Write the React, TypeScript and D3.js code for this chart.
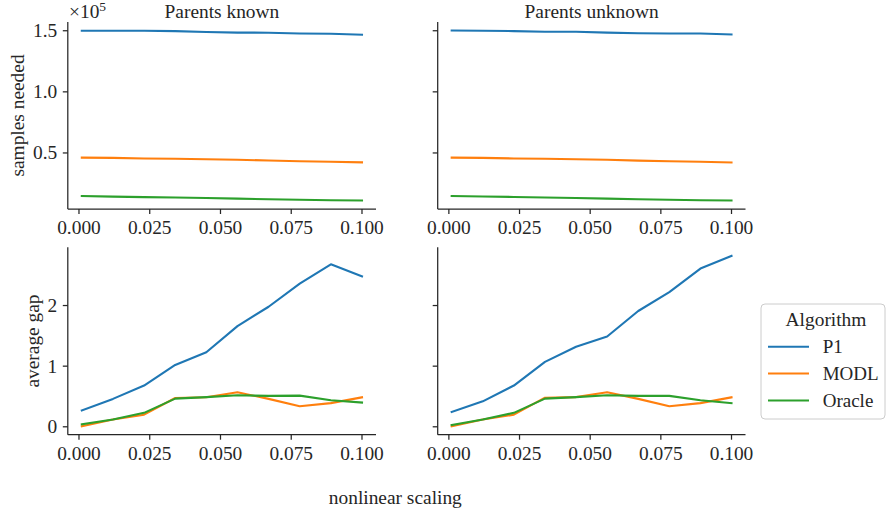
import React from "react";
import * as d3 from "d3";

const nonlinearScaling = [0.001, 0.012, 0.023, 0.034, 0.045, 0.056, 0.067, 0.078, 0.089, 0.1];

const samplesKnownP1 = [150000, 150000, 150000, 149700, 149000, 148500, 148400, 147800, 147500, 146800];
const samplesKnownMODL = [46200, 46000, 45500, 45200, 44900, 44500, 43800, 43200, 42800, 42300];
const samplesKnownOracle = [14800, 14300, 13900, 13500, 13100, 12600, 12100, 11700, 11300, 11100];

const samplesUnknownP1 = [150200, 150000, 149700, 149200, 149200, 148500, 148000, 147700, 147800, 147000];
const samplesUnknownMODL = [46200, 46000, 45500, 45200, 44900, 44500, 43700, 43200, 42800, 42200];
const samplesUnknownOracle = [14800, 14400, 14000, 13600, 13200, 12600, 12100, 11700, 11300, 11100];

const gapKnownP1 = [0.27, 0.46, 0.68, 1.02, 1.23, 1.66, 1.98, 2.36, 2.68, 2.48];
const gapKnownMODL = [0.01, 0.12, 0.2, 0.475, 0.486, 0.57, 0.46, 0.34, 0.39, 0.486];
const gapKnownOracle = [0.04, 0.12, 0.23, 0.465, 0.49, 0.52, 0.51, 0.514, 0.437, 0.4];

const gapUnknownP1 = [0.246, 0.42, 0.68, 1.07, 1.32, 1.49, 1.91, 2.22, 2.61, 2.82];
const gapUnknownMODL = [0.01, 0.12, 0.2, 0.48, 0.49, 0.57, 0.46, 0.34, 0.39, 0.486];
const gapUnknownOracle = [0.03, 0.12, 0.23, 0.465, 0.49, 0.52, 0.51, 0.51, 0.437, 0.39];

const algorithms = ["P1", "MODL", "Oracle"];
const colors = ["#1f77b4", "#ff7f0e", "#2ca02c"];
const columnTitles = ["Parents known", "Parents unknown"];
const xTicks = [0, 0.025, 0.05, 0.075, 0.1];
const samplesTicks = [50000, 100000, 150000];
const gapTicks = [0, 1, 2];

const FONT = "Liberation Serif";
const INK = "#262626";

const cols = [
  { x0: 67.8, x1: 376 },
  { x0: 437.7, x1: 745.5 },
];
const rows = [
  { y0: 22, y1: 209 },
  { y0: 247.3, y1: 434.7 },
];

const padded = (lo: number, hi: number): [number, number] => {
  const r = hi - lo;
  return [lo - 0.05 * r, hi + 0.05 * r];
};

type PanelProps = {
  col: number;
  row: number;
  series: number[][];
  yDomain: [number, number];
  yTicks: number[];
  yFmt: (v: number) => string;
  showYLabels: boolean;
};

function Panel({ col, row, series, yDomain, yTicks, yFmt, showYLabels }: PanelProps) {
  const { x0, x1 } = cols[col];
  const { y0, y1 } = rows[row];
  const xExt = d3.extent(nonlinearScaling) as [number, number];
  const x = d3.scaleLinear().domain(padded(xExt[0], xExt[1])).range([x0, x1]);
  const y = d3.scaleLinear().domain(yDomain).range([y1, y0]);
  const line = d3
    .line<number>()
    .x((_, i) => x(nonlinearScaling[i]))
    .y((d) => y(d));
  const fmt = d3.format(".3f");
  return (
    <g>
      {series.map((s, i) => (
        <path
          key={i}
          d={line(s) || ""}
          fill="none"
          stroke={colors[i]}
          strokeWidth={2.1}
          strokeLinejoin="round"
          strokeLinecap="square"
        />
      ))}
      <line x1={x0} x2={x0} y1={y0} y2={y1} stroke={INK} strokeWidth={1.25} />
      <line x1={x0} x2={x1} y1={y1} y2={y1} stroke={INK} strokeWidth={1.25} />
      {xTicks.map((t) => (
        <g key={t}>
          <line x1={x(t)} x2={x(t)} y1={y1} y2={y1 + 5} stroke={INK} strokeWidth={1.25} />
          <text x={x(t)} y={y1 + 25.3} textAnchor="middle" fontSize={19.4} fontFamily={FONT} fill={INK}>
            {fmt(t)}
          </text>
        </g>
      ))}
      {yTicks.map((t) => (
        <g key={t}>
          <line x1={x0 - 5} x2={x0} y1={y(t)} y2={y(t)} stroke={INK} strokeWidth={1.25} />
          {showYLabels && (
            <text x={x0 - 10.5} y={y(t) + 6.5} textAnchor="end" fontSize={19.4} fontFamily={FONT} fill={INK}>
              {yFmt(t)}
            </text>
          )}
        </g>
      ))}
    </g>
  );
}

export default function App() {
  const topAll = [
    ...samplesKnownP1, ...samplesKnownMODL, ...samplesKnownOracle,
    ...samplesUnknownP1, ...samplesUnknownMODL, ...samplesUnknownOracle,
  ];
  const botAll = [
    ...gapKnownP1, ...gapKnownMODL, ...gapKnownOracle,
    ...gapUnknownP1, ...gapUnknownMODL, ...gapUnknownOracle,
  ];
  const topDom = padded(d3.min(topAll)!, d3.max(topAll)!);
  const botDom = padded(d3.min(botAll)!, d3.max(botAll)!);
  const sFmt = (v: number) => (v / 1e5).toFixed(1);
  const gFmt = (v: number) => String(v);

  const legendY = [346.7, 373.5, 400.5];

  return (
    <svg
      width={886}
      height={513}
      style={{ position: "absolute", left: 0, top: 0, background: "white" }}
    >
      <rect x={0} y={0} width={886} height={513} fill="white" />
      <Panel col={0} row={0} series={[samplesKnownP1, samplesKnownMODL, samplesKnownOracle]} yDomain={topDom} yTicks={samplesTicks} yFmt={sFmt} showYLabels={true} />
      <Panel col={1} row={0} series={[samplesUnknownP1, samplesUnknownMODL, samplesUnknownOracle]} yDomain={topDom} yTicks={samplesTicks} yFmt={sFmt} showYLabels={false} />
      <Panel col={0} row={1} series={[gapKnownP1, gapKnownMODL, gapKnownOracle]} yDomain={botDom} yTicks={gapTicks} yFmt={gFmt} showYLabels={true} />
      <Panel col={1} row={1} series={[gapUnknownP1, gapUnknownMODL, gapUnknownOracle]} yDomain={botDom} yTicks={gapTicks} yFmt={gFmt} showYLabels={false} />

      {columnTitles.map((t, i) => (
        <text key={t} x={(cols[i].x0 + cols[i].x1) / 2} y={17.6} textAnchor="middle" fontSize={19.4} fontFamily={FONT} fill={INK}>
          {t}
        </text>
      ))}

      <text x={69} y={17.6} fontSize={19.4} fontFamily={FONT} fill={INK}>
        ×10
        <tspan fontSize={13.5} dy={-7}>5</tspan>
      </text>

      <text transform={`translate(23.5,${(rows[0].y0 + rows[0].y1) / 2}) rotate(-90)`} textAnchor="middle" fontSize={19.4} fontFamily={FONT} fill={INK}>
        samples needed
      </text>
      <text transform={`translate(38.5,${(rows[1].y0 + rows[1].y1) / 2}) rotate(-90)`} textAnchor="middle" fontSize={19.4} fontFamily={FONT} fill={INK}>
        average gap
      </text>
      <text x={395.3} y={503.5} textAnchor="middle" fontSize={19.4} fontFamily={FONT} fill={INK}>
        nonlinear scaling
      </text>

      <g>
        <rect x={761} y={304} width={124} height={115} rx={4} fill="white" fillOpacity={0.8} stroke="#cccccc" strokeWidth={1} />
        <text x={826} y={325.5} textAnchor="middle" fontSize={19.4} fontFamily={FONT} fill={INK}>
          Algorithm
        </text>
        {algorithms.map((a, i) => (
          <g key={a}>
            <line x1={768} x2={809} y1={legendY[i]} y2={legendY[i]} stroke={colors[i]} strokeWidth={2.1} />
            <text x={822.7} y={legendY[i] + 6.3} fontSize={19} fontFamily={FONT} fill={INK}>
              {a}
            </text>
          </g>
        ))}
      </g>
    </svg>
  );
}
